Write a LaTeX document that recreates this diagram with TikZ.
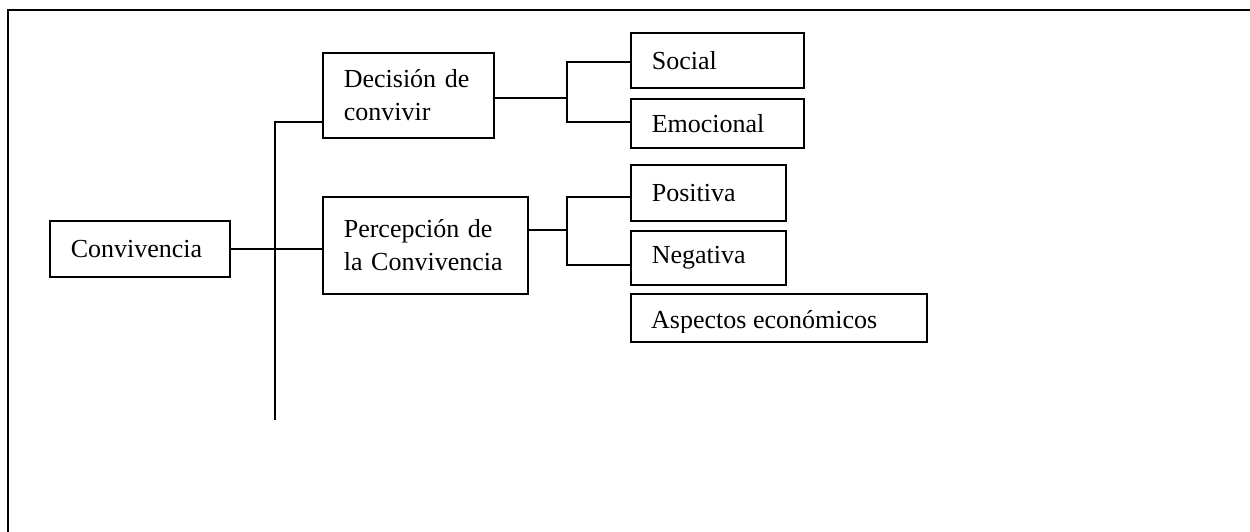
\documentclass[tikz,border=0pt]{standalone}
\usepackage{fontspec}
\setmainfont{Liberation Serif}
\begin{document}
\begin{tikzpicture}[x=1pt,y=-1pt,
  box/.style={draw, line width=1.6pt, inner xsep=21pt, inner ysep=0pt, align=left, anchor=north west, font=\fontsize{26}{33}\selectfont},
  conn/.style={line width=1.5pt},
  frame/.style={line width=2pt}]
\useasboundingbox (0,0) rectangle (1250,532);
% outer frame (only left and top edges visible)
\draw[frame] (8,540) -- (8,10) -- (1260,10);
% nodes
\node[box, text width=138pt, minimum height=56pt] (conv) at (49,220) {Convivencia};
\node[box, text width=129pt, minimum height=85pt] (dec) at (322,52) {Decisión de\\convivir};
\node[box, text width=163pt, minimum height=97pt] (perc) at (322,196) {Percepción de\\la Convivencia};
\node[box, text width=131pt, minimum height=55pt] (social) at (630,32) {Social};
\node[box, text width=131pt, minimum height=49pt] (emoc) at (630,98) {Emocional};
\node[box, text width=113pt, minimum height=56pt] (pos) at (630,164) {Positiva};
\node[box, text width=113pt, minimum height=54pt] (neg) at (630,230) {Negativa};
\node[box, text width=254pt, minimum height=48pt] (asp) at (630,293) {};
\begin{scope}
  \clip (asp.north west) rectangle ([yshift=10pt]asp.south east);
  \node[anchor=base west, inner sep=0pt, font=\fontsize{26}{33}\selectfont] (asptxt) at (651,328) {Aspectos económicos};
\end{scope}
% trunk
\coordinate (trunktop) at (275,122);
\coordinate (trunkbot) at (275,420);
\draw[conn] (dec.west |- trunktop) -- (trunktop) -- (trunkbot);
\draw[conn] (conv.east) -- (perc.west |- conv.east);
% branch from Decision
\coordinate (b1) at (567,98);
\draw[conn] (dec.east |- b1) -- (b1);
\draw[conn] ([yshift=-1.5pt]social.west) -- ([yshift=-1.5pt]social.west -| b1) -- ([yshift=1.5pt]emoc.west -| b1) -- ([yshift=1.5pt]emoc.west);
% branch from Percepcion
\coordinate (b2) at (567,230);
\draw[conn] (perc.east |- b2) -- (b2);
\draw[conn] ([yshift=-4pt]pos.west) -- ([yshift=-4pt]pos.west -| b2) -- ([yshift=-7pt]neg.west -| b2) -- ([yshift=-7pt]neg.west);
\end{tikzpicture}
\end{document}
